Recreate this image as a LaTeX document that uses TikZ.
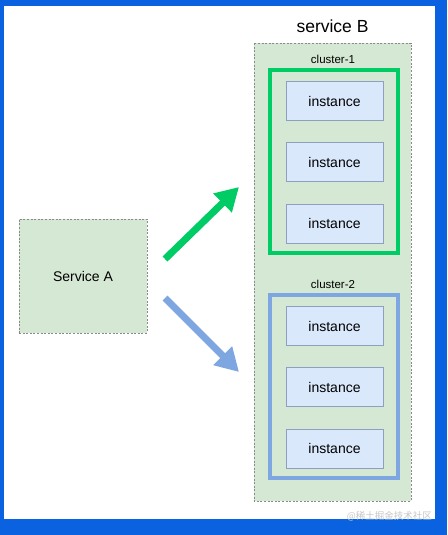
\documentclass[tikz,border=0pt]{standalone}
\usepackage{fontspec}
\setmainfont{Liberation Sans}
\newfontfamily\cjk{Noto Sans CJK SC}
\usetikzlibrary{arrows.meta}
\definecolor{frameblue}{HTML}{0A62E0}
\definecolor{svcfill}{HTML}{D5E8D4}
\definecolor{svcline}{HTML}{8A8A8A}
\definecolor{instfill}{HTML}{DAE8FC}
\definecolor{instline}{HTML}{8E9FBF}
\definecolor{cgreen}{HTML}{00CC66}
\definecolor{cblue}{HTML}{7EA6E0}
\tikzset{
  svcbox/.style={draw=svcline, fill=svcfill, dash pattern=on 2pt off 1.6pt, line width=0.9pt},
  clusterbox/.style={line width=3.5pt},
  instbox/.style={draw=instline, fill=instfill, line width=0.8pt, minimum width=97pt, minimum height=39pt, inner sep=0pt, font=\fontsize{14}{16}\selectfont},
  lbl/.style={font=\fontsize{11.5}{13}\selectfont, inner sep=0pt},
  bigarrow/.style={line width=7pt, -{Triangle[length=23pt,width=25pt]}}
}
\begin{document}
\begin{tikzpicture}[x=1pt,y=-1pt]
\useasboundingbox (0,0) rectangle (447,535);
\fill[frameblue] (0,0) rectangle (447,535);
\fill[white] (4,6) rectangle (435,519);
% Service A
\node[svcbox, minimum width=128pt, minimum height=114pt, inner sep=0pt, font=\fontsize{14}{16}\selectfont] (A) at (83,276) {Service A};
% Service B
\draw[svcbox] (254,43) rectangle (411,501);
\node[font=\fontsize{17.5}{19}\selectfont, inner sep=0pt] (Btitle) at (332.5,26) {service B};
\node[lbl] (c1) at (333,59) {cluster-1};
\node[lbl] (c2) at (333,284) {cluster-2};
\draw[clusterbox, draw=cgreen] (270,70) rectangle (398,253);
\draw[clusterbox, draw=cblue] (270,295) rectangle (398,478);
\node[instbox] (i1) at (334.5,101) {instance};
\node[instbox] (i2) at (334.5,162) {instance};
\node[instbox] (i3) at (334.5,223.5) {instance};
\node[instbox] (i4) at (334.5,326) {instance};
\node[instbox] (i5) at (334.5,387) {instance};
\node[instbox] (i6) at (334.5,448.5) {instance};
% arrows
\coordinate (g1) at (165,259);
\coordinate (g2) at (239,187);
\coordinate (b1) at (165,298);
\coordinate (b2) at (239,372);
\draw[bigarrow, draw=cgreen] (g1) -- (g2);
\draw[bigarrow, draw=cblue] (b1) -- (b2);
% watermark
\node[font=\cjk\fontsize{9.5}{10}\selectfont, text=gray!45, inner sep=0pt, anchor=east] (wm) at (432,516) {@稀土掘金技术社区};
\end{tikzpicture}
\end{document}
